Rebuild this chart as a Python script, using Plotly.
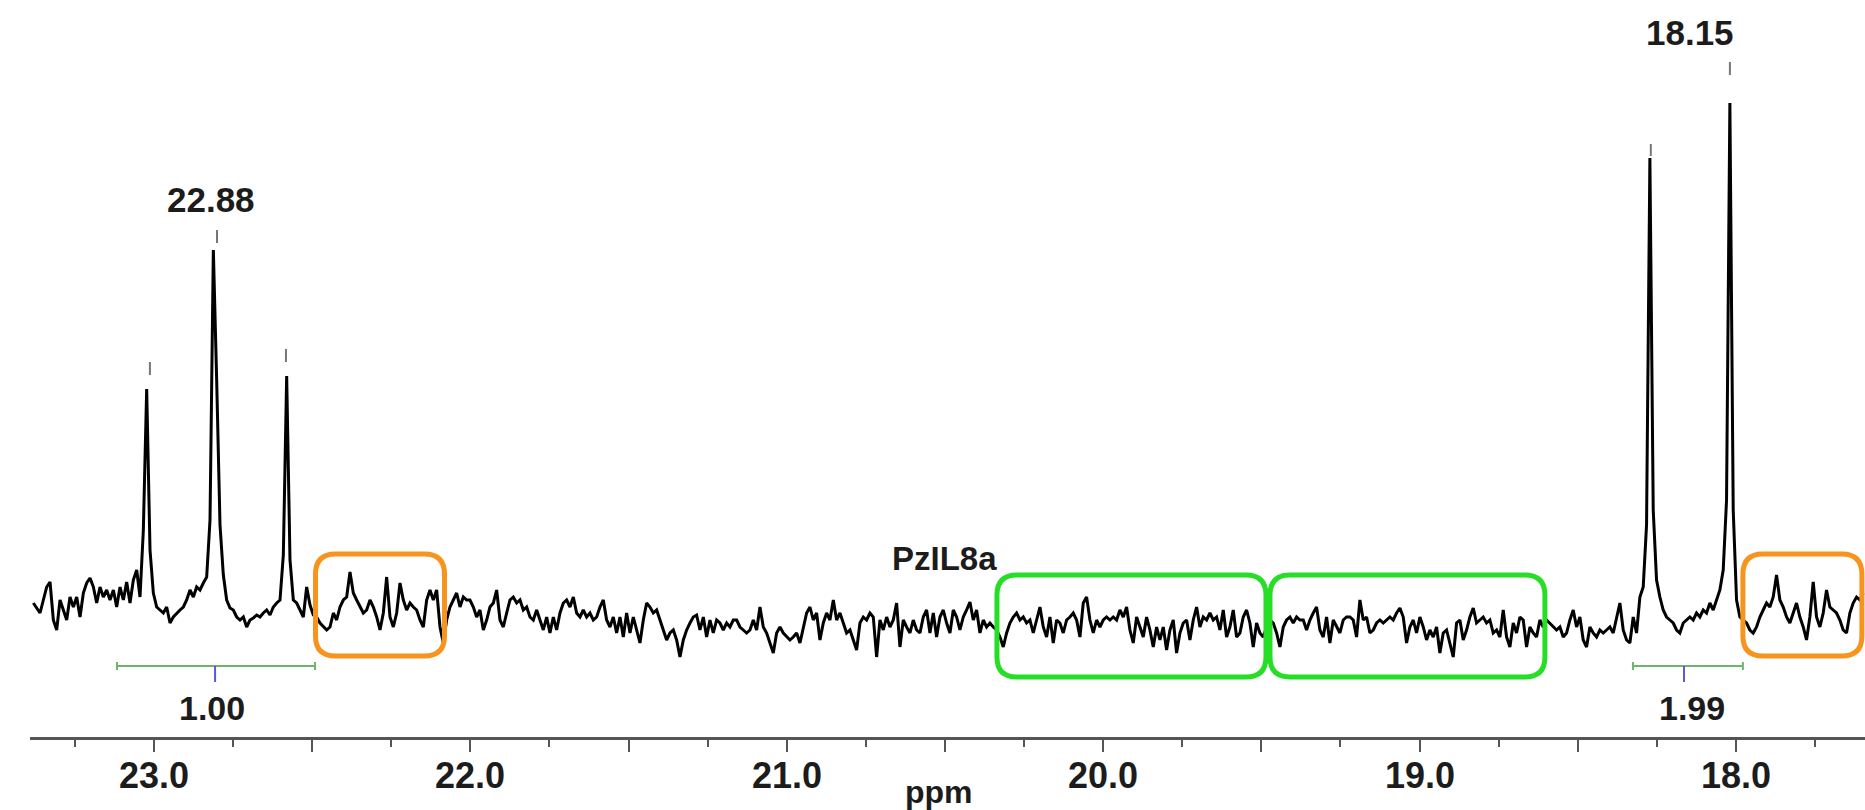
import plotly.graph_objects as go

# ---------------- data ----------------
ppm_start = 23.3814          # chemical shift of first point
ppm_step = 0.010535          # spacing between points (ppm)

intensity = [
    -3, -8, -13, 0, 13, 18, -20, -30, 0, -10,
    -20, 3, -7, 3, -17, 7, 17, 22, 13, -3,
    13, 3, 10, 0, 10, -7, 13, 0, 18, -3,
    20, 30, 3, 70, 211, 50, 7, -7, -10, -13,
    -7, -23, -17, -13, -10, -7, 0, 10, 3, 13,
    10, 17, 23, 80, 350, 220, 75, 25, 0, -8,
    -10, -17, -20, -17, -27, -20, -18, -15, -17, -13,
    -10, -15, -7, -3, 0, 45, 224, 40, 0, -3,
    -10, -17, 13, -5, -15, -17, -23, -27, -30, -27,
    -13, -20, -7, 0, 3, 28, 7, 0, -7, -13,
    -10, 0, -7, -17, -30, -13, 23, -17, -27, -13,
    17, 0, -10, -3, -7, -10, -20, -27, 0, 10,
    0, 10, -27, -43, -20, -7, 0, 7, -7, 3,
    0, 0, -7, -17, -10, -30, -20, -7, -3, 10,
    -20, -27, -13, 0, 3, -3, 0, -10, -7, -17,
    -20, -10, -20, -30, -17, -33, -17, -30, -13, -3,
    0, -7, 3, -13, -17, -10, -17, -13, -20, -17,
    -7, 0, -20, -27, -17, -33, -17, -37, -13, -33,
    -17, -30, -43, -20, -3, -7, -13, -10, -20, -30,
    -40, -33, -30, -40, -57, -40, -30, -23, -17, -15,
    -30, -17, -37, -20, -33, -20, -23, -30, -23, -27,
    -20, -20, -27, -30, -33, -30, -20, -30, -7, -27,
    -33, -43, -53, -33, -27, -33, -37, -40, -37, -33,
    -43, -27, -13, -7, -20, -13, -40, -23, -13, -20,
    0, -20, -13, -23, -33, -30, -40, -50, -23, -17,
    -20, -13, -17, -57, -20, -30, -17, -27, -20, -3,
    -47, -20, -27, -33, -20, -30, -33, -17, -10, -33,
    -13, -37, -17, -10, -23, -33, -10, -17, -30, -17,
    -10, -2, -20, -10, -33, -20, -27, -23, -27, -30,
    -37, -47, -33, -23, -17, -13, -20, -17, -23, -20,
    -33, -20, -7, -27, -37, -17, -43, -20, -23, -33,
    -20, -17, -13, -20, -37, -3, 3, -20, -33, -20,
    -27, -20, -17, -20, -17, -20, -10, -17, -7, -30,
    -43, -17, -27, -37, -17, -30, -47, -27, -40, -27,
    -50, -30, -20, -53, -33, -23, -20, -40, -20, -7,
    -27, -17, -20, -13, -20, -17, -30, -10, -37, -27,
    -10, -37, -33, -17, -10, -23, -47, -23, -33, -37,
    -27, -20, -23, -33, -47, -27, -20, -17, -23, -17,
    -20, -20, -30, -20, -13, -7, -30, -37, -17, -43,
    -20, -27, -33, -20, -17, -17, -20, -37, 0, -20,
    -17, -33, -30, -23, -20, -23, -20, -17, -20, -13,
    -8, -17, -43, -27, -20, -33, -17, -27, -40, -30,
    -37, -27, -53, -33, -30, -43, -57, -23, -20, -40,
    -30, -17, -8, -23, -20, -17, -23, -20, -33, -30,
    -37, -10, -37, -47, -23, -33, -17, -20, -47, -27,
    -33, -37, -20, -27, -20, -23, -27, -30, -27, -37,
    -33, -20, -10, -27, -17, -40, -47, -27, -33, -37,
    -30, -33, -30, -27, -33, -17, -3, -30, -40, -43,
    -17, -33, 3, 13, 75, 442, 90, 20, 3, -10,
    -17, -20, -23, -30, -33, -23, -20, -17, -20, -13,
    -17, -10, -13, -3, -10, 0, 10, 30, 100, 497,
    90, 0, -17, -20, -23, -30, -33, -27, -17, -10,
    -3, -7, 3, 25, 0, -7, -17, -23, -13, -3,
    -17, -27, -40, -17, 18, -17, -27, -13, 10, -7,
    -10, -13, -20, -30, -33, -13, -3, 3, 0, 7,
]

# peak-pick markers
pick_ppm = [23.013, 22.801, 22.583, 18.269, 18.019]
pick_low = [225, 357, 238, 444, 525]
pick_high = [238, 370, 251, 456, 538]

# peak shift labels
label_text = ["22.88", "18.15"]
label_ppm = [22.82, 18.145]
label_level = [401, 568]

# integrals
integral_from = [23.117, 18.3255]
integral_to = [22.491, 17.978]
integral_mark = [22.807, 18.164]
integral_value = ["1.00", "1.99"]
integral_label_ppm = [22.817, 18.139]
integral_level = -66
integral_label_level = -108

# highlighted noise regions
orange_from = [22.4896, 17.9779]
orange_to = [22.0819, 17.6018]
orange_low, orange_high = -56, 46
green_from = [20.3357, 19.4727]
green_to = [19.4854, 18.6037]
green_low, green_high = -77, 25

sample_name = "PzIL8a"
sample_ppm, sample_level = 20.50, 42

x_range = [23.392, 17.592]
y_range = [-137, 600]
major_ticks = [23.0, 22.5, 22.0, 21.5, 21.0, 20.5, 20.0, 19.5, 19.0, 18.5, 18.0]
minor_ticks = [23.25, 22.75, 22.25, 21.75, 21.25, 20.75, 20.25, 19.75,
               19.25, 18.75, 18.25, 17.75]
label_ticks = [23.0, 22.0, 21.0, 20.0, 19.0, 18.0]
axis_title = "ppm"
axis_title_ppm = 20.52

# ---------------- figure ----------------
ppm = [ppm_start - ppm_step * i for i in range(len(intensity))]

FONT = "Liberation Sans, Arial, sans-serif"
TXT = "#1c1c1c"
PLOT_H = 737  # height of plotting area in px (for paper offsets)

fig = go.Figure()
fig.add_trace(go.Scatter(x=ppm, y=intensity, mode="lines",
                         line=dict(color="black", width=3),
                         hoverinfo="skip", showlegend=False))

shapes = []

def rounded_rect(p1, p2, lo, hi, color):
    a, b = max(p1, p2), min(p1, p2)
    rx, ry = 20 / 316.4, 20
    path = (f"M {a - rx},{hi} L {b + rx},{hi} Q {b},{hi} {b},{hi - ry} "
            f"L {b},{lo + ry} Q {b},{lo} {b + rx},{lo} L {a - rx},{lo} "
            f"Q {a},{lo} {a},{lo + ry} L {a},{hi - ry} Q {a},{hi} {a - rx},{hi} Z")
    return dict(type="path", xref="x", yref="y", path=path,
                line=dict(color=color, width=5), fillcolor="rgba(0,0,0,0)")

for f, t in zip(orange_from, orange_to):
    shapes.append(rounded_rect(f, t, orange_low, orange_high, "#F7941E"))
for f, t in zip(green_from, green_to):
    shapes.append(rounded_rect(f, t, green_low, green_high, "#27DE27"))

for p, lo, hi in zip(pick_ppm, pick_low, pick_high):
    shapes.append(dict(type="line", xref="x", yref="y", x0=p, x1=p, y0=lo, y1=hi,
                       line=dict(color="#777777", width=2)))

for f, t, m in zip(integral_from, integral_to, integral_mark):
    shapes.append(dict(type="line", xref="x", yref="y", x0=f, x1=t,
                       y0=integral_level, y1=integral_level,
                       line=dict(color="#6DB36D", width=2)))
    for e in (f, t):
        shapes.append(dict(type="line", xref="x", yref="y", x0=e, x1=e,
                           y0=integral_level - 4, y1=integral_level + 4,
                           line=dict(color="#6DB36D", width=2)))
    shapes.append(dict(type="line", xref="x", yref="y", x0=m, x1=m,
                       y0=integral_level, y1=integral_level - 16,
                       line=dict(color="#5A5ACD", width=2)))

annotations = []
for txt, p, lvl in zip(label_text, label_ppm, label_level):
    annotations.append(dict(x=p, y=lvl, xref="x", yref="y", text=txt, showarrow=False,
                            font=dict(family=FONT, size=35, color=TXT, weight="bold"),
                            xanchor="center", yanchor="middle"))
for txt, p in zip(integral_value, integral_label_ppm):
    annotations.append(dict(x=p, y=integral_label_level, xref="x", yref="y", text=txt,
                            showarrow=False,
                            font=dict(family=FONT, size=34, color=TXT, weight="bold"),
                            xanchor="center", yanchor="middle"))
annotations.append(dict(x=sample_ppm, y=sample_level, xref="x", yref="y", text=sample_name,
                        showarrow=False,
                        font=dict(family=FONT, size=33, color=TXT, weight="bold"),
                        xanchor="center", yanchor="middle"))
# x tick labels (integer ppm) placed as text below the axis
for v in label_ticks:
    annotations.append(dict(x=v, y=-(775 - PLOT_H) / PLOT_H, xref="x", yref="paper",
                            text=f"{v:.1f}", showarrow=False,
                            font=dict(family=FONT, size=36, color=TXT, weight="bold"),
                            xanchor="center", yanchor="middle"))
annotations.append(dict(x=axis_title_ppm, y=-(792 - PLOT_H) / PLOT_H, xref="x", yref="paper",
                        text=axis_title, showarrow=False,
                        font=dict(family=FONT, size=32, color=TXT, weight="bold"),
                        xanchor="center", yanchor="middle"))

fig.update_layout(
    width=1865, height=810,
    margin=dict(l=30, r=0, t=0, b=810 - PLOT_H, pad=0),
    paper_bgcolor="white", plot_bgcolor="white",
    shapes=shapes, annotations=annotations,
    xaxis=dict(range=x_range, showgrid=False, zeroline=False,
               showline=True, linecolor="#555555", linewidth=3,
               ticks="outside", ticklen=12, tickwidth=2, tickcolor="#555555",
               tickmode="array", tickvals=major_ticks, showticklabels=False,
               minor=dict(tickmode="array", tickvals=minor_ticks, ticks="outside",
                          ticklen=7, tickwidth=2, tickcolor="#555555", showgrid=False)),
    yaxis=dict(range=y_range, visible=False, showgrid=False, zeroline=False),
)

fig.write_html("out.html",
               config={"displayModeBar": False},
               post_script="document.body.style.margin='0';document.body.style.padding='0';")
